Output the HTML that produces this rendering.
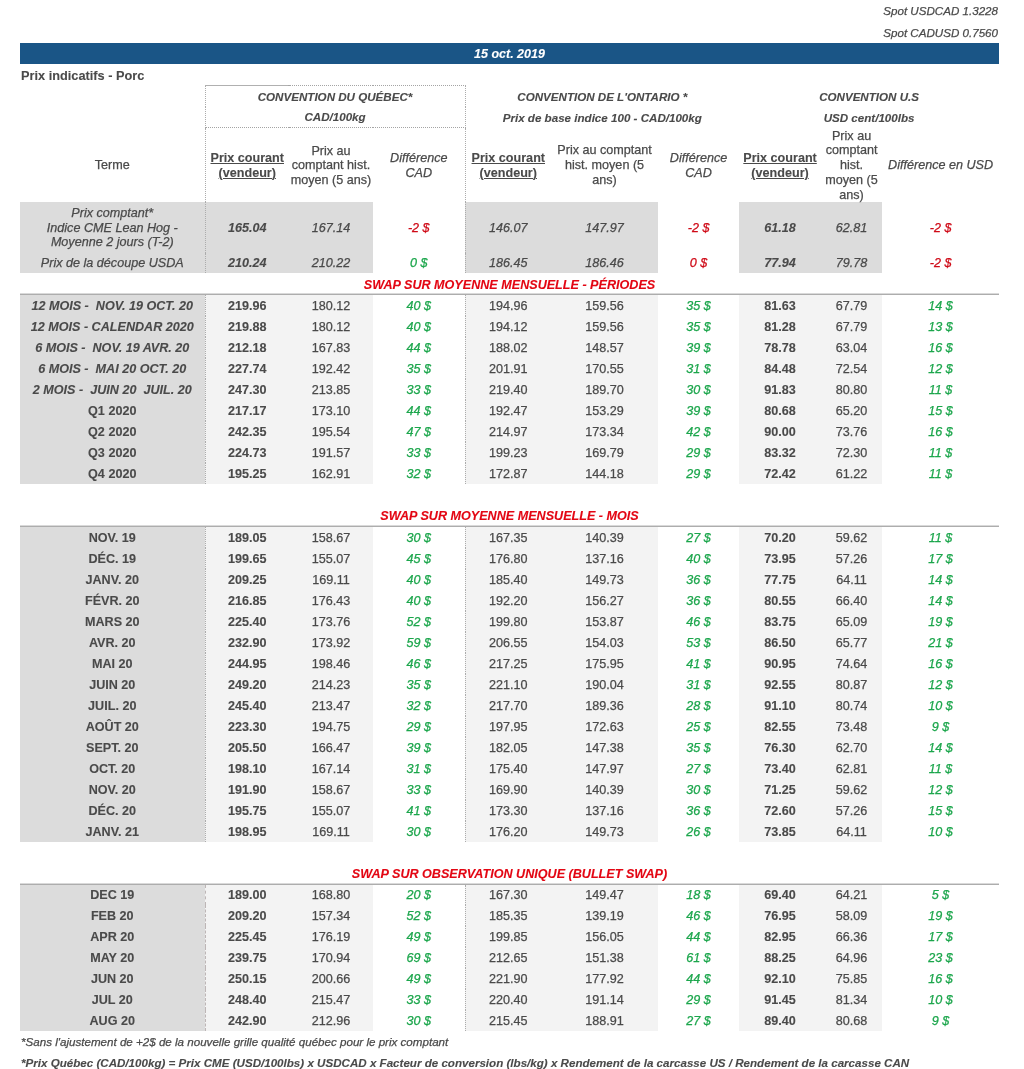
<!DOCTYPE html>
<html lang="fr"><head><meta charset="utf-8"><title>Prix indicatifs - Porc</title>
<style>
html,body{margin:0;padding:0;background:#fff;}
body{-webkit-text-stroke:0.25px currentColor;width:1024px;height:1069px;position:relative;overflow:hidden;font-family:"Liberation Sans",Arial,Helvetica,sans-serif;font-size:12.6px;color:#4a4a4a;}
.spot{position:absolute;right:26px;font-style:italic;font-size:11.6px;line-height:14px;white-space:nowrap;}
.s1{top:4px;}
.s2{top:26px;}
.bar{position:absolute;left:20px;top:43px;width:979px;height:21px;background:#1a5586;color:#fff;font-weight:bold;font-style:italic;font-size:12.5px;line-height:23px;text-align:center;}
.title{position:absolute;left:21px;top:68px;font-weight:bold;font-size:12.75px;line-height:16px;white-space:nowrap;}
table{position:absolute;left:20px;top:85px;width:979px;border-collapse:collapse;table-layout:fixed;border-spacing:0;}
col.c1{width:185px}col.c2{width:84px}col.c3{width:84px}col.c4{width:92px}col.c5{width:86px}col.c6{width:107px}col.c7{width:81px}col.c8{width:82px}col.c9{width:61px}col.c10{width:117px}
td{padding:2px 0 0 0;text-align:center;vertical-align:middle;white-space:nowrap;overflow:visible;}
tr.h1{height:21px}
tr.h2{height:21px}
tr.h3{height:74px}
tr.top1{height:51px}
tr.top2{height:20px}
tr.sec{height:21px}
tr.sec.s0{height:22px}
tr.r{height:21px}
tr.gap{height:22px}
.conv{font-weight:bold;font-style:italic;font-size:11.6px;}
tr.h3 td{line-height:14.75px;padding:0;}
.hx{position:relative;top:1px;}
.pc{font-weight:bold;text-decoration:underline;}
.df{font-style:italic;}
tr.top1 td,tr.top2 td{font-style:italic;line-height:14.75px;}
tr.top1 td.t,tr.top2 td.t,tr.top1 td.a,tr.top2 td.a,tr.top1 td.b,tr.top2 td.b{background:#dcdcdc;}
td.a{font-weight:bold;}
td.r{color:#cf0a17;}
td.g{color:#1ca64c;font-style:italic;}
tr.sec td{color:#e30613;font-weight:bold;font-style:italic;font-size:12.6px;padding-top:1px;}
tr.sec.s0 td{padding-top:3px;}
tr.r td.t{background:#dcdcdc;font-weight:bold;}
tr.r td.it{font-style:italic;}
tr.r td.a,tr.r td.b{background:#f3f3f3;}
tr.r.first td{border-top:1px solid #adadad;}
tr.sec td{background:linear-gradient(#d9d9d9,#d9d9d9) left bottom/100% 1px no-repeat;}
.bl{border-left:1px dotted #acacac;}
td.conv.q{border-left:1px dotted #acacac;border-right:1px dotted #acacac;}
tr.h1 td.q{border-top:1px dotted #a4a4a4;}
tr.h2 td.q{border-bottom:1px dotted #a4a4a4;}
.fn{position:absolute;left:21px;font-style:italic;font-size:11.6px;line-height:14px;white-space:nowrap;}
.f1{top:1035px;}
.f2{top:1056px;font-weight:bold;}
tr.gap.g2{height:22px}
tr.r.first.kb{height:20px}
tr.r.first.kb td{padding-top:1px;}
tr.h1 td{padding:0;}
tr.h2 td{padding:0;}
.pc{text-decoration-thickness:1.4px;}
tr.r.kb td:nth-child(2){border-left:1px dashed #bdb6b6;}
.seg{position:absolute;left:205px;top:85px;width:83px;height:1px;background:#b0b0b0;}
td.a,tr.r td.t,.conv,.pc,tr.sec td,.bar,.title,.f2{-webkit-text-stroke:0.1px currentColor;}

</style></head><body>
<div class="spot s1">Spot USDCAD 1.3228</div>
<div class="spot s2">Spot CADUSD 0.7560</div>
<div class="bar">15 oct. 2019</div>
<div class="title">Prix indicatifs - Porc</div>
<table><colgroup><col class="c1"><col class="c2"><col class="c3"><col class="c4"><col class="c5"><col class="c6"><col class="c7"><col class="c8"><col class="c9"><col class="c10"></colgroup>
<tr class="h1"><td></td><td colspan="3" class="conv q">CONVENTION DU QUÉBEC*</td><td colspan="3" class="conv o">CONVENTION DE L'ONTARIO *</td><td colspan="3" class="conv u">CONVENTION U.S</td></tr>
<tr class="h2"><td></td><td colspan="3" class="conv q">CAD/100kg</td><td colspan="3" class="conv o">Prix de base indice 100 - CAD/100kg</td><td colspan="3" class="conv u">USD cent/100lbs</td></tr>
<tr class="h3"><td class="terme"><div class="hx">Terme</div></td><td class="pc bl"><div class="hx">Prix courant<br>(vendeur)</div></td><td class="pm"><div class="hx">Prix au<br>comptant hist.<br>moyen (5 ans)</div></td><td class="df"><div class="hx">Différence<br>CAD</div></td><td class="pc bl"><div class="hx">Prix courant<br>(vendeur)</div></td><td class="pm"><div class="hx">Prix au comptant<br>hist. moyen (5<br>ans)</div></td><td class="df"><div class="hx">Différence<br>CAD</div></td><td class="pc"><div class="hx">Prix courant<br>(vendeur)</div></td><td class="pm"><div class="hx">Prix au<br>comptant<br>hist.<br>moyen (5<br>ans)</div></td><td class="df"><div class="hx">Différence en USD</div></td></tr>
<tr class="top1"><td class="t">Prix comptant*<br>Indice CME Lean Hog -<br>Moyenne 2 jours (T-2)</td><td class="a bl">165.04</td><td class="b">167.14</td><td class="d r">-2 $</td><td class="b bl">146.07</td><td class="b">147.97</td><td class="d r">-2 $</td><td class="a">61.18</td><td class="b">62.81</td><td class="d r">-2 $</td></tr>
<tr class="top2"><td class="t">Prix de la découpe USDA</td><td class="a bl">210.24</td><td class="b">210.22</td><td class="d g">0 $</td><td class="b bl">186.45</td><td class="b">186.46</td><td class="d r">0 $</td><td class="a">77.94</td><td class="b">79.78</td><td class="d r">-2 $</td></tr>
<tr class="sec s0"><td colspan="10">SWAP SUR MOYENNE MENSUELLE - PÉRIODES</td></tr>
<tr class="r first kp"><td class="t it">12 MOIS -&nbsp; NOV. 19 OCT. 20</td><td class="a bl">219.96</td><td class="b">180.12</td><td class="d g">40 $</td><td class="b bl">194.96</td><td class="b">159.56</td><td class="d g">35 $</td><td class="a">81.63</td><td class="b">67.79</td><td class="d g">14 $</td></tr>
<tr class="r kp"><td class="t it">12 MOIS - CALENDAR 2020</td><td class="a bl">219.88</td><td class="b">180.12</td><td class="d g">40 $</td><td class="b bl">194.12</td><td class="b">159.56</td><td class="d g">35 $</td><td class="a">81.28</td><td class="b">67.79</td><td class="d g">13 $</td></tr>
<tr class="r kp"><td class="t it">6 MOIS -&nbsp; NOV. 19 AVR. 20</td><td class="a bl">212.18</td><td class="b">167.83</td><td class="d g">44 $</td><td class="b bl">188.02</td><td class="b">148.57</td><td class="d g">39 $</td><td class="a">78.78</td><td class="b">63.04</td><td class="d g">16 $</td></tr>
<tr class="r kp"><td class="t it">6 MOIS -&nbsp; MAI 20 OCT. 20</td><td class="a bl">227.74</td><td class="b">192.42</td><td class="d g">35 $</td><td class="b bl">201.91</td><td class="b">170.55</td><td class="d g">31 $</td><td class="a">84.48</td><td class="b">72.54</td><td class="d g">12 $</td></tr>
<tr class="r kp"><td class="t it">2 MOIS -&nbsp; JUIN 20&nbsp; JUIL. 20</td><td class="a bl">247.30</td><td class="b">213.85</td><td class="d g">33 $</td><td class="b bl">219.40</td><td class="b">189.70</td><td class="d g">30 $</td><td class="a">91.83</td><td class="b">80.80</td><td class="d g">11 $</td></tr>
<tr class="r kp"><td class="t">Q1 2020</td><td class="a bl">217.17</td><td class="b">173.10</td><td class="d g">44 $</td><td class="b bl">192.47</td><td class="b">153.29</td><td class="d g">39 $</td><td class="a">80.68</td><td class="b">65.20</td><td class="d g">15 $</td></tr>
<tr class="r kp"><td class="t">Q2 2020</td><td class="a bl">242.35</td><td class="b">195.54</td><td class="d g">47 $</td><td class="b bl">214.97</td><td class="b">173.34</td><td class="d g">42 $</td><td class="a">90.00</td><td class="b">73.76</td><td class="d g">16 $</td></tr>
<tr class="r kp"><td class="t">Q3 2020</td><td class="a bl">224.73</td><td class="b">191.57</td><td class="d g">33 $</td><td class="b bl">199.23</td><td class="b">169.79</td><td class="d g">29 $</td><td class="a">83.32</td><td class="b">72.30</td><td class="d g">11 $</td></tr>
<tr class="r kp"><td class="t">Q4 2020</td><td class="a bl">195.25</td><td class="b">162.91</td><td class="d g">32 $</td><td class="b bl">172.87</td><td class="b">144.18</td><td class="d g">29 $</td><td class="a">72.42</td><td class="b">61.22</td><td class="d g">11 $</td></tr>
<tr class="gap"><td colspan="10"></td></tr>
<tr class="sec"><td colspan="10">SWAP SUR MOYENNE MENSUELLE - MOIS</td></tr>
<tr class="r first km"><td class="t">NOV. 19</td><td class="a bl">189.05</td><td class="b">158.67</td><td class="d g">30 $</td><td class="b bl">167.35</td><td class="b">140.39</td><td class="d g">27 $</td><td class="a">70.20</td><td class="b">59.62</td><td class="d g">11 $</td></tr>
<tr class="r km"><td class="t">DÉC. 19</td><td class="a bl">199.65</td><td class="b">155.07</td><td class="d g">45 $</td><td class="b bl">176.80</td><td class="b">137.16</td><td class="d g">40 $</td><td class="a">73.95</td><td class="b">57.26</td><td class="d g">17 $</td></tr>
<tr class="r km"><td class="t">JANV. 20</td><td class="a bl">209.25</td><td class="b">169.11</td><td class="d g">40 $</td><td class="b bl">185.40</td><td class="b">149.73</td><td class="d g">36 $</td><td class="a">77.75</td><td class="b">64.11</td><td class="d g">14 $</td></tr>
<tr class="r km"><td class="t">FÉVR. 20</td><td class="a bl">216.85</td><td class="b">176.43</td><td class="d g">40 $</td><td class="b bl">192.20</td><td class="b">156.27</td><td class="d g">36 $</td><td class="a">80.55</td><td class="b">66.40</td><td class="d g">14 $</td></tr>
<tr class="r km"><td class="t">MARS 20</td><td class="a bl">225.40</td><td class="b">173.76</td><td class="d g">52 $</td><td class="b bl">199.80</td><td class="b">153.87</td><td class="d g">46 $</td><td class="a">83.75</td><td class="b">65.09</td><td class="d g">19 $</td></tr>
<tr class="r km"><td class="t">AVR. 20</td><td class="a bl">232.90</td><td class="b">173.92</td><td class="d g">59 $</td><td class="b bl">206.55</td><td class="b">154.03</td><td class="d g">53 $</td><td class="a">86.50</td><td class="b">65.77</td><td class="d g">21 $</td></tr>
<tr class="r km"><td class="t">MAI 20</td><td class="a bl">244.95</td><td class="b">198.46</td><td class="d g">46 $</td><td class="b bl">217.25</td><td class="b">175.95</td><td class="d g">41 $</td><td class="a">90.95</td><td class="b">74.64</td><td class="d g">16 $</td></tr>
<tr class="r km"><td class="t">JUIN 20</td><td class="a bl">249.20</td><td class="b">214.23</td><td class="d g">35 $</td><td class="b bl">221.10</td><td class="b">190.04</td><td class="d g">31 $</td><td class="a">92.55</td><td class="b">80.87</td><td class="d g">12 $</td></tr>
<tr class="r km"><td class="t">JUIL. 20</td><td class="a bl">245.40</td><td class="b">213.47</td><td class="d g">32 $</td><td class="b bl">217.70</td><td class="b">189.36</td><td class="d g">28 $</td><td class="a">91.10</td><td class="b">80.74</td><td class="d g">10 $</td></tr>
<tr class="r km"><td class="t">AOÛT 20</td><td class="a bl">223.30</td><td class="b">194.75</td><td class="d g">29 $</td><td class="b bl">197.95</td><td class="b">172.63</td><td class="d g">25 $</td><td class="a">82.55</td><td class="b">73.48</td><td class="d g">9 $</td></tr>
<tr class="r km"><td class="t">SEPT. 20</td><td class="a bl">205.50</td><td class="b">166.47</td><td class="d g">39 $</td><td class="b bl">182.05</td><td class="b">147.38</td><td class="d g">35 $</td><td class="a">76.30</td><td class="b">62.70</td><td class="d g">14 $</td></tr>
<tr class="r km"><td class="t">OCT. 20</td><td class="a bl">198.10</td><td class="b">167.14</td><td class="d g">31 $</td><td class="b bl">175.40</td><td class="b">147.97</td><td class="d g">27 $</td><td class="a">73.40</td><td class="b">62.81</td><td class="d g">11 $</td></tr>
<tr class="r km"><td class="t">NOV. 20</td><td class="a bl">191.90</td><td class="b">158.67</td><td class="d g">33 $</td><td class="b bl">169.90</td><td class="b">140.39</td><td class="d g">30 $</td><td class="a">71.25</td><td class="b">59.62</td><td class="d g">12 $</td></tr>
<tr class="r km"><td class="t">DÉC. 20</td><td class="a bl">195.75</td><td class="b">155.07</td><td class="d g">41 $</td><td class="b bl">173.30</td><td class="b">137.16</td><td class="d g">36 $</td><td class="a">72.60</td><td class="b">57.26</td><td class="d g">15 $</td></tr>
<tr class="r km"><td class="t">JANV. 21</td><td class="a bl">198.95</td><td class="b">169.11</td><td class="d g">30 $</td><td class="b bl">176.20</td><td class="b">149.73</td><td class="d g">26 $</td><td class="a">73.85</td><td class="b">64.11</td><td class="d g">10 $</td></tr>
<tr class="gap g2"><td colspan="10"></td></tr>
<tr class="sec s2"><td colspan="10">SWAP SUR OBSERVATION UNIQUE (BULLET SWAP)</td></tr>
<tr class="r first kb"><td class="t">DEC 19</td><td class="a bl">189.00</td><td class="b">168.80</td><td class="d g">20 $</td><td class="b bl">167.30</td><td class="b">149.47</td><td class="d g">18 $</td><td class="a">69.40</td><td class="b">64.21</td><td class="d g">5 $</td></tr>
<tr class="r kb"><td class="t">FEB 20</td><td class="a bl">209.20</td><td class="b">157.34</td><td class="d g">52 $</td><td class="b bl">185.35</td><td class="b">139.19</td><td class="d g">46 $</td><td class="a">76.95</td><td class="b">58.09</td><td class="d g">19 $</td></tr>
<tr class="r kb"><td class="t">APR 20</td><td class="a bl">225.45</td><td class="b">176.19</td><td class="d g">49 $</td><td class="b bl">199.85</td><td class="b">156.05</td><td class="d g">44 $</td><td class="a">82.95</td><td class="b">66.36</td><td class="d g">17 $</td></tr>
<tr class="r kb"><td class="t">MAY 20</td><td class="a bl">239.75</td><td class="b">170.94</td><td class="d g">69 $</td><td class="b bl">212.65</td><td class="b">151.38</td><td class="d g">61 $</td><td class="a">88.25</td><td class="b">64.96</td><td class="d g">23 $</td></tr>
<tr class="r kb"><td class="t">JUN 20</td><td class="a bl">250.15</td><td class="b">200.66</td><td class="d g">49 $</td><td class="b bl">221.90</td><td class="b">177.92</td><td class="d g">44 $</td><td class="a">92.10</td><td class="b">75.85</td><td class="d g">16 $</td></tr>
<tr class="r kb"><td class="t">JUL 20</td><td class="a bl">248.40</td><td class="b">215.47</td><td class="d g">33 $</td><td class="b bl">220.40</td><td class="b">191.14</td><td class="d g">29 $</td><td class="a">91.45</td><td class="b">81.34</td><td class="d g">10 $</td></tr>
<tr class="r kb"><td class="t">AUG 20</td><td class="a bl">242.90</td><td class="b">212.96</td><td class="d g">30 $</td><td class="b bl">215.45</td><td class="b">188.91</td><td class="d g">27 $</td><td class="a">89.40</td><td class="b">80.68</td><td class="d g">9 $</td></tr>
</table>
<div class="seg"></div>
<div class="fn f1">*Sans l'ajustement de +2$ de la nouvelle grille qualité québec pour le prix comptant</div>
<div class="fn f2">*Prix Québec (CAD/100kg) = Prix CME (USD/100lbs) x USDCAD x Facteur de conversion (lbs/kg) x Rendement de la carcasse US / Rendement de la carcasse CAN</div>
</body></html>
